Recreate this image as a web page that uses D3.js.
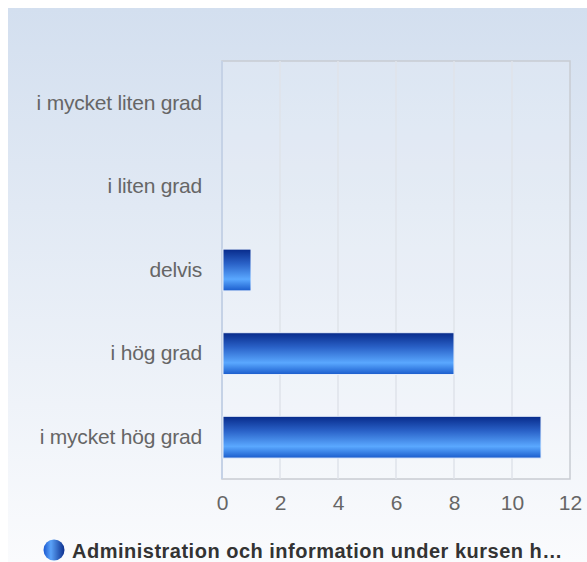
<!DOCTYPE html>
<html>
<head>
<meta charset="utf-8">
<script src="https://cdn.jsdelivr.net/npm/d3@7"></script>
<style>
  body { margin: 0; background: #fff; }
  text { font-family: "Liberation Sans", Arial, sans-serif; }
</style>
</head>
<body>
<div id="chart"></div>
<script>
// Chart data
const categories = ["i mycket liten grad", "i liten grad", "delvis", "i hög grad", "i mycket hög grad"];
const counts = [0, 0, 1, 8, 11];
const xTicks = [0, 2, 4, 6, 8, 10, 12];
const seriesName = "Administration och information under kursen h…";

const width = 587;
const height = 562;
const margin = { top: 61, right: 17, bottom: 83, left: 222 };
const plotW = width - margin.left - margin.right;
const plotH = height - margin.top - margin.bottom;

const svg = d3.select('#chart').append('svg')
    .attr('width', width)
    .attr('height', height);

const defs = svg.append('defs');

// background gradient
const bg = defs.append('linearGradient')
    .attr('id', 'bg').attr('x1', 0).attr('y1', 0).attr('x2', 0).attr('y2', 1);
bg.append('stop').attr('offset', '0%').attr('stop-color', '#d3dfef');
bg.append('stop').attr('offset', '100%').attr('stop-color', '#fafbfd');

// bar gradient
const barGrad = defs.append('linearGradient')
    .attr('id', 'barGrad').attr('x1', 0).attr('y1', 0).attr('x2', 0).attr('y2', 1);
barGrad.append('stop').attr('offset', '0%').attr('stop-color', '#072a8a');
barGrad.append('stop').attr('offset', '35%').attr('stop-color', '#2a62c8');
barGrad.append('stop').attr('offset', '72%').attr('stop-color', '#5aa8ff');
barGrad.append('stop').attr('offset', '100%').attr('stop-color', '#1a5ccc');

// legend marker gradient
const legGrad = defs.append('linearGradient')
    .attr('id', 'legGrad').attr('x1', 0).attr('y1', 0).attr('x2', 1).attr('y2', 0);
legGrad.append('stop').attr('offset', '0%').attr('stop-color', '#1a58d0');
legGrad.append('stop').attr('offset', '35%').attr('stop-color', '#5aa2f8');
legGrad.append('stop').attr('offset', '100%').attr('stop-color', '#0c2f8e');

svg.append('rect')
    .attr('x', 8).attr('y', 8)
    .attr('width', width - 8).attr('height', height - 8)
    .attr('fill', 'url(#bg)');

const g = svg.append('g')
    .attr('transform', `translate(${margin.left}, ${margin.top})`);

const x = d3.scaleLinear()
    .domain([0, 12])
    .range([0, plotW]);

const y = d3.scaleBand()
    .domain(categories)
    .range([0, plotH])
    .paddingInner(0.5)
    .paddingOuter(0.25);

// plot area
g.append('rect')
    .attr('width', plotW).attr('height', plotH)
    .attr('fill', 'rgba(255,255,255,0.15)')
    .attr('stroke', '#c8ccd2').attr('stroke-width', 1.5);

// gridlines
g.append('g').selectAll('line')
    .data(xTicks.slice(1, -1))
    .join('line')
    .attr('x1', d => x(d)).attr('x2', d => x(d))
    .attr('y1', 0).attr('y2', plotH)
    .attr('stroke', '#dfe3ea').attr('stroke-width', 1.5);

// left axis line
g.append('line')
    .attr('x1', 0).attr('x2', 0).attr('y1', 0).attr('y2', plotH)
    .attr('stroke', '#c5d2e6').attr('stroke-width', 2);

// x axis labels
const xAxis = d3.axisBottom(x).tickValues(xTicks).tickSize(0).tickPadding(16);
g.append('g')
    .attr('transform', `translate(0, ${plotH})`)
    .call(xAxis)
    .call(a => a.select('.domain').remove())
    .call(a => a.selectAll('text')
        .attr('font-size', 21)
        .attr('fill', '#666')
        .style('font-family', '"Liberation Sans", Arial, sans-serif'));

// y axis labels
const yAxis = d3.axisLeft(y).tickSize(0).tickPadding(20);
g.append('g')
    .call(yAxis)
    .call(a => a.select('.domain').remove())
    .call(a => a.selectAll('text')
        .attr('font-size', 21)
        .attr('fill', '#666')
        .attr('letter-spacing', -0.2)
        .style('font-family', '"Liberation Sans", Arial, sans-serif'));

// bars
g.append('g').selectAll('rect')
    .data(categories.map((c, i) => ({ cat: c, value: counts[i] })).filter(d => d.value > 0))
    .join('rect')
    .attr('x', 1)
    .attr('y', d => y(d.cat))
    .attr('width', d => x(d.value) - 1)
    .attr('height', y.bandwidth())
    .attr('fill', 'url(#barGrad)')
    .attr('stroke', '#e6eefa')
    .attr('stroke-width', 1);

// legend
const legend = svg.append('g').attr('transform', 'translate(54, 550)');
legend.append('circle')
    .attr('r', 10.5)
    .attr('fill', 'url(#legGrad)');
legend.append('text')
    .attr('x', 18)
    .attr('y', 8)
    .attr('font-size', 20)
    .attr('font-weight', 'bold')
    .attr('letter-spacing', 0.5)
    .attr('fill', '#333')
    .text(seriesName);
</script>
</body>
</html>
